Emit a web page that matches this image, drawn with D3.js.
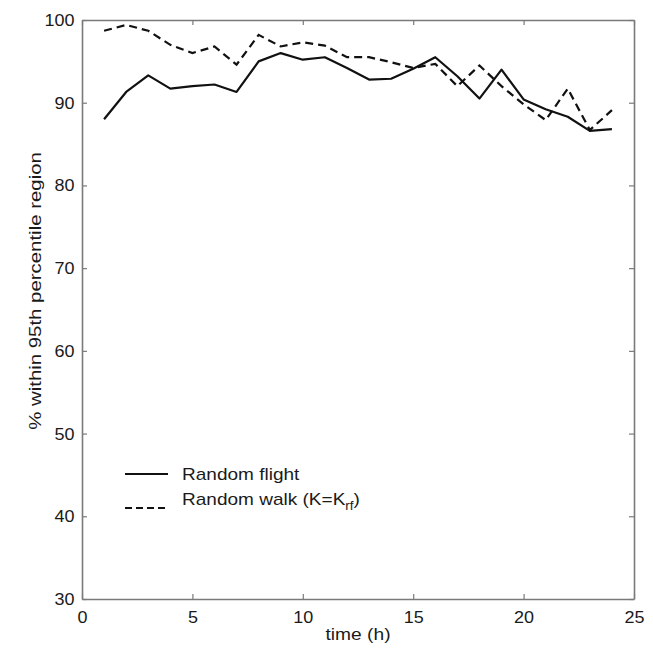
<!DOCTYPE html>
<html>
<head>
<meta charset="utf-8">
<script src="https://cdn.jsdelivr.net/npm/d3@7"></script>
<style>
  body { margin: 0; background: #fff; }
  text { font-family: "Liberation Sans", Arial, sans-serif; fill: #1a1a1a; }
</style>
</head>
<body>
<div id="chart"></div>
<script>
// data
var hours = [1, 2, 3, 4, 5, 6, 7, 8, 9, 10, 11, 12, 13, 14, 15, 16, 17, 18, 19, 20, 21, 22, 23, 24];
var randomFlight = [88.0, 91.3, 93.3, 91.7, 92.0, 92.2, 91.3, 95.0, 96.0, 95.2, 95.5, 94.2,
                    92.8, 92.9, 94.1, 95.5, 93.2, 90.5, 94.0, 90.4, 89.2, 88.3, 86.6, 86.8];
var randomWalk = [98.7, 99.4, 98.7, 97.0, 96.0, 96.8, 94.6, 98.2, 96.8, 97.3, 96.9, 95.5,
                  95.5, 94.9, 94.2, 94.7, 92.0, 94.5, 92.0, 89.8, 87.9, 91.7, 86.7, 89.1];
var xTicks = [0, 5, 10, 15, 20, 25];
var yTicks = [30, 40, 50, 60, 70, 80, 90, 100];

var width = 653;
var height = 650;
var margin = { top: 20, right: 19, bottom: 51, left: 82 };

var svg = d3.select("#chart")
            .append("svg")
            .attr("width", width)
            .attr("height", height);

var x = d3.scaleLinear()
          .domain([0, 25])
          .range([margin.left, width - margin.right]);

var y = d3.scaleLinear()
          .domain([30, 100])
          .range([height - margin.bottom, margin.top]);

var axisColor = "#7a7a7a";
var tickLen = 5;

// box axes, ticks pointing inward
var bottomAxis = svg.append("g")
   .attr("transform", "translate(0," + y(30) + ")")
   .call(d3.axisBottom(x).tickValues(xTicks).tickSizeInner(-tickLen).tickSizeOuter(0).tickPadding(12));

var topAxis = svg.append("g")
   .attr("transform", "translate(0," + y(100) + ")")
   .call(d3.axisTop(x).tickValues(xTicks).tickSizeInner(-tickLen).tickSizeOuter(0).tickFormat(""));

var leftAxis = svg.append("g")
   .attr("transform", "translate(" + x(0) + ",0)")
   .call(d3.axisLeft(y).tickValues(yTicks).tickSizeInner(-tickLen).tickSizeOuter(0).tickPadding(7));

var rightAxis = svg.append("g")
   .attr("transform", "translate(" + x(25) + ",0)")
   .call(d3.axisRight(y).tickValues(yTicks).tickSizeInner(-tickLen).tickSizeOuter(0).tickFormat(""));

[bottomAxis, topAxis, leftAxis, rightAxis].forEach(function(g) {
   g.select(".domain").attr("stroke", axisColor).attr("stroke-width", 1.6);
   g.selectAll(".tick line").attr("stroke", axisColor).attr("stroke-width", 1.2);
   g.selectAll(".tick text")
    .style("font-family", "'Liberation Sans', Arial, sans-serif")
    .style("font-size", "17px")
    .attr("fill", "#1a1a1a")
    .attr("transform", "scale(1.06,1)");
});

var line = d3.line()
             .x(function(d, i) { return x(hours[i]); })
             .y(function(d) { return y(d); });

svg.append("path")
   .datum(randomFlight)
   .attr("fill", "none")
   .attr("stroke", "#111")
   .attr("stroke-width", 2.2)
   .attr("stroke-linejoin", "round")
   .attr("d", line);

svg.append("path")
   .datum(randomWalk)
   .attr("fill", "none")
   .attr("stroke", "#111")
   .attr("stroke-width", 2.2)
   .attr("stroke-dasharray", "8,5")
   .attr("d", line);

// axis titles (the original font is a bit wider than Arial, hence the x-stretch)
svg.append("text")
   .attr("transform", "translate(" + x(12.5) + ",640) scale(1.13,1)")
   .attr("text-anchor", "middle")
   .style("font-size", "17px")
   .text("time (h)");

svg.append("text")
   .attr("transform", "translate(41,291) rotate(-90) scale(1.2,1)")
   .attr("text-anchor", "middle")
   .style("font-size", "17px")
   .text("% within 95th percentile region");

// legend
var legend = svg.append("g");

legend.append("line")
   .attr("x1", 125).attr("x2", 168)
   .attr("y1", 474).attr("y2", 474)
   .attr("stroke", "#111")
   .attr("stroke-width", 2.2);

legend.append("text")
   .attr("transform", "translate(182,480) scale(1.12,1)")
   .style("font-size", "17px")
   .text("Random flight");

legend.append("line")
   .attr("x1", 125).attr("x2", 168)
   .attr("y1", 508).attr("y2", 508)
   .attr("stroke", "#111")
   .attr("stroke-width", 2.2)
   .attr("stroke-dasharray", "7,4");

var walkText = legend.append("text")
   .attr("transform", "translate(182,505) scale(1.12,1)")
   .style("font-size", "17px");

walkText.append("tspan").text("Random walk (K=K");
walkText.append("tspan")
   .attr("dy", 5)
   .style("font-size", "12px")
   .text("rf");
walkText.append("tspan")
   .attr("dy", -5)
   .text(")");
</script>
</body>
</html>
